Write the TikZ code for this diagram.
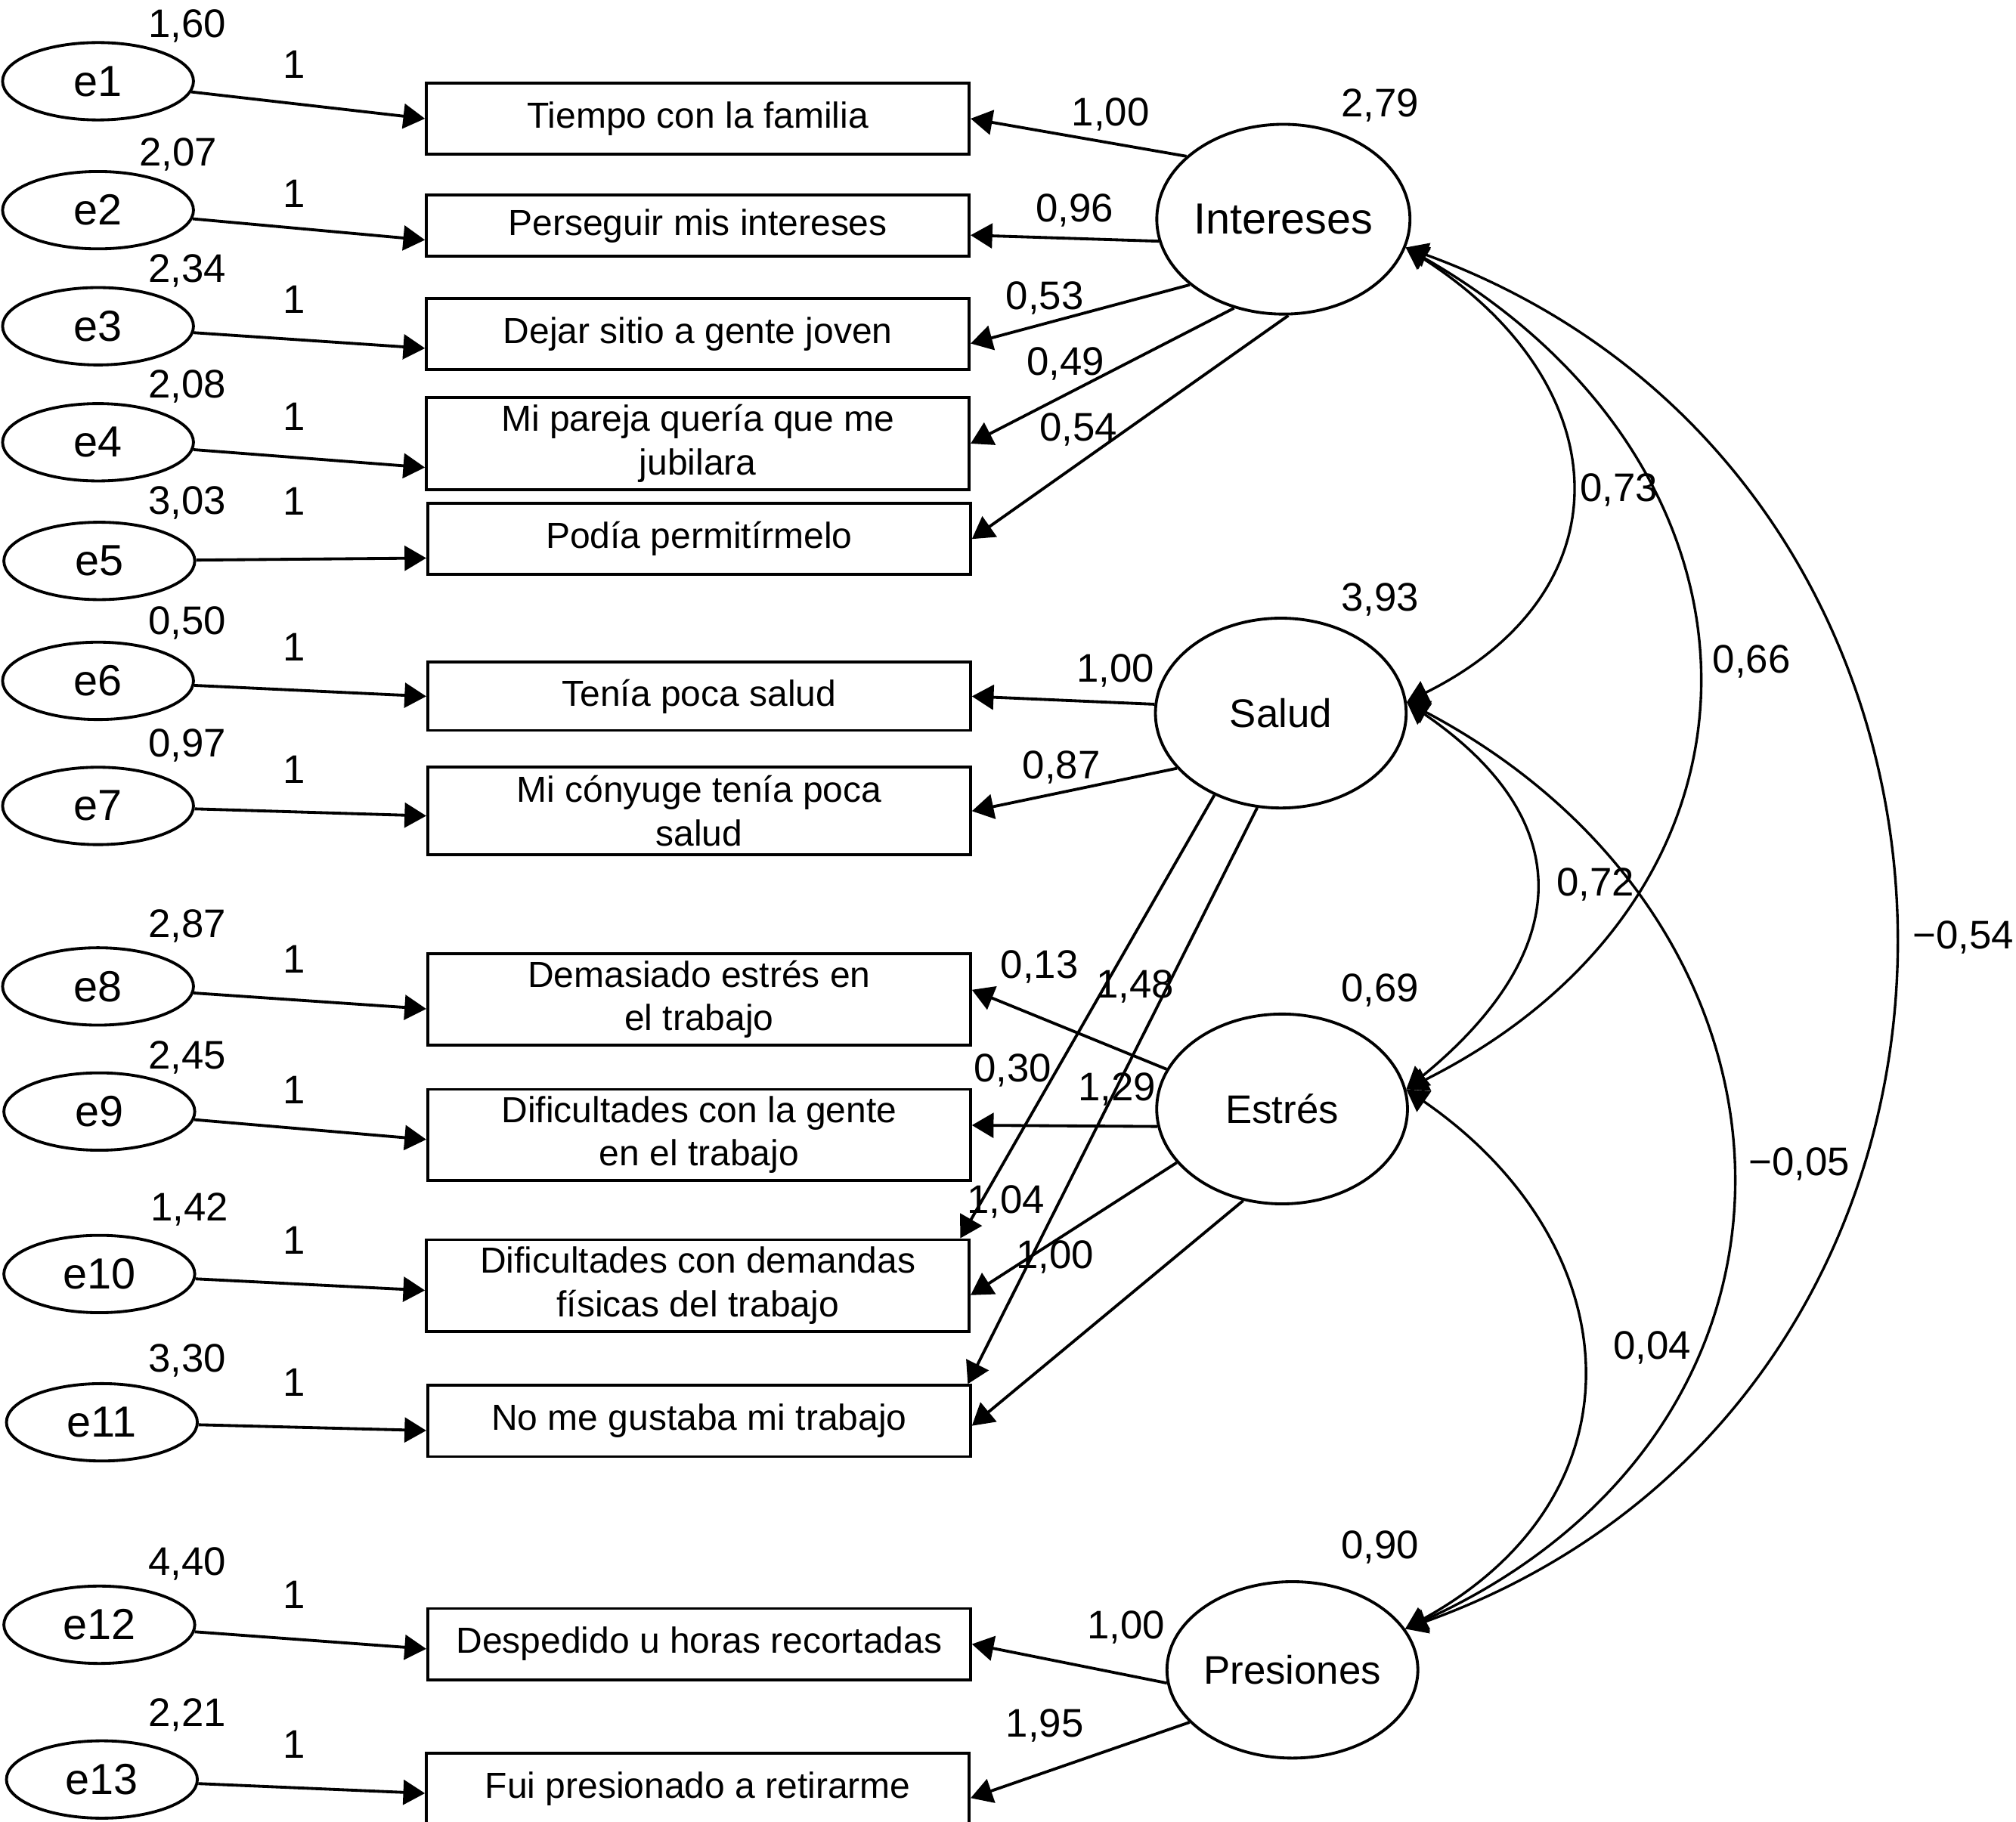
\documentclass[tikz,border=0pt]{standalone}
\usepackage{fontspec}
\setmainfont{Liberation Sans}
\usetikzlibrary{shapes.geometric,arrows.meta}

\tikzset{
  errvar/.style={draw, ellipse, line width=0.8pt, minimum width=1.85cm, minimum height=0.75cm, inner sep=0pt, font=\fontsize{12}{14}\selectfont},
  latvar/.style={draw, ellipse, line width=0.8pt, minimum width=2.43cm, minimum height=1.84cm, inner sep=0pt, font=\fontsize{11}{13}\selectfont},
  obsvar/.style={draw, rectangle, line width=0.8pt, minimum width=5.26cm, minimum height=0.69cm, inner sep=1pt, align=center, font=\fontsize{10}{12}\selectfont},
  num/.style={inner sep=0pt, font=\fontsize{11}{13}\selectfont},
  regr/.style={line width=0.8pt, -{Triangle[length=2.1mm,width=2.4mm]}},
  cov/.style={line width=0.7pt, {Triangle[length=2.1mm,width=2.4mm]}-{Triangle[length=2.1mm,width=2.4mm]}}
}

\begin{document}
\begin{tikzpicture}[x=0.125mm, y=-0.125mm]
    \useasboundingbox (0,0) rectangle (1563,1412.5);

    % error terms
    \node[errvar] (e1) at (76,63) {e1};
    \node[errvar] (e2) at (76,163) {e2};
    \node[errvar] (e3) at (76,253) {e3};
    \node[errvar] (e4) at (76,343) {e4};
    \node[errvar] (e5) at (77,435) {e5};
    \node[errvar] (e6) at (76,528) {e6};
    \node[errvar] (e7) at (76,625) {e7};
    \node[errvar] (e8) at (76,765) {e8};
    \node[errvar] (e9) at (77,862) {e9};
    \node[errvar] (e10) at (77,988) {e10};
    \node[errvar] (e11) at (79,1103) {e11};
    \node[errvar] (e12) at (77,1260) {e12};
    \node[errvar] (e13) at (79,1380) {e13};

    % observed items
    \node[obsvar] (b1) at (541,92) {Tiempo con la familia};
    \node[obsvar, minimum height=0.59cm] (b2) at (541,175) {Perseguir mis intereses};
    \node[obsvar] (b3) at (541,259) {Dejar sitio a gente joven};
    \node[obsvar, minimum height=0.89cm] (b4) at (541,344) {Mi pareja quería que me\\jubilara};
    \node[obsvar] (b5) at (542,418) {Podía permitírmelo};
    \node[obsvar, minimum height=0.66cm] (b6) at (542,540) {Tenía poca salud};
    \node[obsvar, minimum height=0.85cm] (b7) at (542,629) {Mi cónyuge tenía poca\\salud};
    \node[obsvar, minimum height=0.89cm] (b8) at (542,775) {Demasiado estrés en\\el trabajo};
    \node[obsvar, minimum height=0.88cm] (b9) at (542,880) {Dificultades con la gente\\en el trabajo};
    \node[obsvar, minimum height=0.89cm] (b10) at (541,997) {Dificultades con demandas\\físicas del trabajo};
    \node[obsvar] (b11) at (542,1102) {No me gustaba mi trabajo};
    \node[obsvar] (b12) at (542,1275) {Despedido u horas recortadas};
    \node[obsvar] (b13) at (541,1387) {Fui presionado a retirarme};

    % factors
    \node[latvar, font=\fontsize{12}{14}\selectfont] (int) at (995,170) {Intereses};
    \node[latvar] (sal) at (993,553) {Salud};
    \node[latvar] (est) at (994,860) {Estrés};
    \node[latvar, minimum height=1.71cm] (pres) at (1002,1295) {Presiones};

    % error arrows
    \draw[regr] (e1) -- (b1.west);
    \draw[regr] (e2) -- (b2.183);
    \draw[regr] (e3) -- (b3.183);
    \draw[regr] (e4) -- (b4.185);
    \draw[regr] (e5) -- (b5.184);
    \draw[regr] (e6) -- (b6.west);
    \draw[regr] (e7) -- (b7.181);
    \draw[regr] (e8) -- (b8.182);
    \draw[regr] (e9) -- (b9.181);
    \draw[regr] (e10) -- (b10.181);
    \draw[regr] (e11) -- (b11.182);
    \draw[regr] (e12) -- (b12.181);
    \draw[regr] (e13) -- (b13.181);

    % loadings
    \draw[regr] (int.147) -- (b1.east);
    \draw[regr] (int.190) -- (b2.358);
    \draw[regr] (int.215) -- (b3.358);
    \draw[regr] (int.241) -- (b4.east);
    \draw[regr] (int.273) -- (b5.east);
    \draw[regr] (sal.176) -- (b6.east);
    \draw[regr] (sal.208) -- (b7.east);
    \draw[regr] (sal.231) -- ([xshift=-1mm]b10.north east);
    \draw[regr] (sal.256) -- ([xshift=-0.4mm]b11.north east);
    \draw[regr] (est.161) -- (b8.2);
    \draw[regr] (est.188) -- (b9.2);
    \draw[regr] (est.207) -- (b10.358);
    \draw[regr] (est.247) -- (b11.359);
    \draw[regr] (pres.186) -- (b12.east);
    \draw[regr] (pres.207) -- (b13.358);

    % covariances
    \draw[cov] (int.-13) .. controls (1255,298) and (1264,458) .. (sal.5);
    \draw[cov] (int.-13) .. controls (1387,362) and (1394,692) .. (est.9);
    \draw[cov] (int.-13) .. controls (1590,374) and (1597,1081) .. (pres.20);
    \draw[cov] (sal.5) .. controls (1227,638) and (1218,740) .. (est.9);
    \draw[cov] (sal.5) .. controls (1417,717) and (1434,1107) .. (pres.20);
    \draw[cov] (est.9) .. controls (1263,964) and (1280,1158) .. (pres.20);

    % error variances
    \node[num] (v1) at (145,20) {1,60};
    \node[num] (v2) at (138,120) {2,07};
    \node[num] (v3) at (145,210) {2,34};
    \node[num] (v4) at (145,300) {2,08};
    \node[num] (v5) at (145,390) {3,03};
    \node[num] (v6) at (145,483) {0,50};
    \node[num] (v7) at (145,578) {0,97};
    \node[num] (v8) at (145,718) {2,87};
    \node[num] (v9) at (145,820) {2,45};
    \node[num] (v10) at (147,938) {1,42};
    \node[num] (v11) at (145,1055) {3,30};
    \node[num] (v12) at (145,1213) {4,40};
    \node[num] (v13) at (145,1330) {2,21};

    % fixed weights
    \node[num] (w1) at (228,50) {1};
    \node[num] (w2) at (228,150) {1};
    \node[num] (w3) at (228,232) {1};
    \node[num] (w4) at (228,323) {1};
    \node[num] (w5) at (228,389) {1};
    \node[num] (w6) at (228,502) {1};
    \node[num] (w7) at (228,597) {1};
    \node[num] (w8) at (228,744) {1};
    \node[num] (w9) at (228,845) {1};
    \node[num] (w10) at (228,962) {1};
    \node[num] (w11) at (228,1072) {1};
    \node[num] (w12) at (228,1237) {1};
    \node[num] (w13) at (228,1353) {1};

    % loading values
    \node[num] (l1) at (861,89) {1,00};
    \node[num] (l2) at (833,163) {0,96};
    \node[num] (l3) at (810,231) {0,53};
    \node[num] (l4) at (826,282) {0,49};
    \node[num] (l5) at (836,333) {0,54};
    \node[num] (l6) at (865,520) {1,00};
    \node[num] (l7) at (823,595) {0,87};
    \node[num] (l8) at (806,750) {0,13};
    \node[num] (l9) at (880,765) {1,48};
    \node[num] (l10) at (785,830) {0,30};
    \node[num] (l11) at (866,845) {1,29};
    \node[num] (l12) at (780,932) {1,04};
    \node[num] (l13) at (818,975) {1,00};
    \node[num] (l14) at (873,1262) {1,00};
    \node[num] (l15) at (810,1338) {1,95};

    % factor variances and covariances
    \node[num] (vint) at (1070,82) {2,79};
    \node[num] (vsal) at (1070,465) {3,93};
    \node[num] (vest) at (1070,768) {0,69};
    \node[num] (vpres) at (1070,1200) {0,90};
    \node[num] (c1) at (1255,380) {0,73};
    \node[num] (c2) at (1358,513) {0,66};
    \node[num] (c3) at (1522,727) {−0,54};
    \node[num] (c4) at (1237,686) {0,72};
    \node[num] (c5) at (1395,903) {−0,05};
    \node[num] (c6) at (1281,1045) {0,04};
\end{tikzpicture}
\end{document}
